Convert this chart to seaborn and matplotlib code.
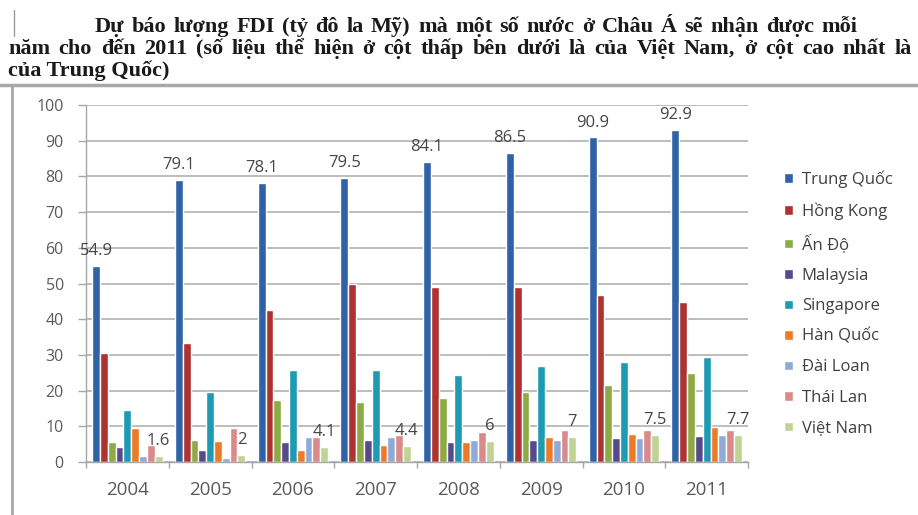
import pandas as pd
import matplotlib
matplotlib.use("Agg")
import matplotlib.pyplot as plt
from matplotlib.lines import Line2D
from matplotlib.ticker import FixedLocator, MultipleLocator
import seaborn as sns

# FDI forecast (billion USD) by year and economy
years = ["2004", "2005", "2006", "2007", "2008", "2009", "2010", "2011"]
countries = ["Trung Quốc", "Hồng Kong", "Ấn Độ", "Malaysia", "Singapore",
             "Hàn Quốc", "Đài Loan", "Thái Lan", "Việt Nam"]

trung_quoc = [54.9, 79.1, 78.1, 79.5, 84.1, 86.5, 90.9, 92.9]
hong_kong = [30.4, 33.4, 42.6, 49.9, 48.9, 48.9, 46.8, 44.9]
an_do = [5.7, 6.3, 17.4, 16.9, 17.8, 19.7, 21.6, 24.8]
malaysia = [4.3, 3.5, 5.7, 6.2, 5.7, 6.2, 6.6, 7.3]
singapore = [14.6, 19.7, 25.8, 25.8, 24.4, 26.9, 28.1, 29.5]
han_quoc = [9.4, 6.0, 3.5, 4.8, 5.7, 7.1, 7.8, 9.7]
dai_loan = [1.7, 1.0, 7.1, 7.1, 6.3, 6.2, 6.6, 7.6]
thai_lan = [4.8, 9.5, 7.0, 7.6, 8.5, 9.0, 9.0, 9.0]
viet_nam = [1.6, 2, 4.1, 4.4, 6, 7, 7.5, 7.7]

series = [trung_quoc, hong_kong, an_do, malaysia, singapore,
          han_quoc, dai_loan, thai_lan, viet_nam]

colors = ["#2F62A6", "#AE3330", "#8CAB45", "#574A8C", "#1E9BB3",
          "#EC7A26", "#8FAAD8", "#D98B8B", "#BFD494"]

title_lines = [
    "Dự báo lượng FDI (tỷ đô la Mỹ) mà một số nước ở Châu Á sẽ nhận được mỗi",
    "năm cho đến 2011 (số liệu thể hiện ở cột thấp bên dưới là của Việt Nam, ở cột cao nhất là",
    "của Trung Quốc)",
]

rows = []
for name, vals in zip(countries, series):
    for yr, v in zip(years, vals):
        rows.append({"Năm": yr, "FDI": v, "Nước": name})
df = pd.DataFrame(rows)

sns.set_style("white")
plt.rcParams["font.family"] = ["Open Sans", "DejaVu Sans"]

W, H = 918, 515
fig = plt.figure(figsize=(W / 100, H / 100), dpi=100)
ax = fig.add_axes([86 / W, 1 - 462 / H, (748 - 86) / W, (462 - 105) / H])

sns.barplot(data=df, x="Năm", y="FDI", hue="Nước", order=years,
            hue_order=countries, palette=colors, width=0.85,
            saturation=1, errorbar=None, ax=ax)

ax.set_ylim(0, 100)
ax.set_xlim(-0.5, len(years) - 0.5)
ax.yaxis.set_major_locator(MultipleLocator(10))
ax.set_xlabel("")
ax.set_ylabel("")
ax.grid(axis="y", color="#BDBDBD", linewidth=1.4)
ax.set_axisbelow(True)

for side in ("top", "right"):
    ax.spines[side].set_visible(False)
for side in ("left", "bottom"):
    ax.spines[side].set_color("#A6A6A6")
    ax.spines[side].set_linewidth(1.0)

ax.tick_params(axis="y", which="major", length=6, width=1.0, color="#A6A6A6",
               pad=10, labelsize=11.5, labelcolor="#5A5A5A", left=True)
ax.tick_params(axis="x", which="major", length=0, pad=14, labelsize=13.5,
               labelcolor="#5A5A5A")
ax.xaxis.set_minor_locator(FixedLocator([i - 0.5 for i in range(len(years) + 1)]))
ax.tick_params(axis="x", which="minor", length=4, width=1.0, color="#A6A6A6",
               bottom=True)

# value labels on the tallest and lowest series
for idx in (0, len(countries) - 1):
    vals = series[idx]
    ax.bar_label(ax.containers[idx], labels=[f"{v:g}" for v in vals],
                 padding=5, fontsize=12, color="#454545")

handles, labels = ax.get_legend_handles_labels()
ax.legend(handles, labels, loc="upper left",
          bbox_to_anchor=(776 / W, 1 - 162 / H), bbox_transform=fig.transFigure,
          frameon=False, borderpad=0, handlelength=0.5, handleheight=0.5,
          handletextpad=0.55, labelspacing=0.87, fontsize=12,
          labelcolor="#404040")

# title paragraph: first two lines justified, last line left-aligned
title_font = dict(family=["Liberation Serif", "DejaVu Serif"], fontsize=16,
                  fontweight="bold", color="#1A1A1A", va="baseline", ha="left")
renderer = fig.canvas.get_renderer()


def justified_line(text, x0, x1, y):
    words = text.split(" ")
    items = [fig.text(0, 1 - y / H, w, **title_font) for w in words]
    widths = [t.get_window_extent(renderer).width for t in items]
    gap = (x1 - x0 - sum(widths)) / (len(words) - 1)
    x = x0
    for t, w in zip(items, widths):
        t.set_x(x / W)
        x += w + gap


justified_line(title_lines[0], 95, 857, 32)
justified_line(title_lines[1], 8, 912, 54)
fig.text(8 / W, 1 - 76 / H, title_lines[2], **title_font)

# chart frame edges
fig.add_artist(Line2D([0, 1], [1 - 85 / H, 1 - 85 / H], transform=fig.transFigure,
                      color="#A8A8A8", linewidth=2.5))
fig.add_artist(Line2D([12 / W, 12 / W], [0, 1 - 85 / H], transform=fig.transFigure,
                      color="#A8A8A8", linewidth=2.0))
fig.add_artist(Line2D([14 / W, 14 / W], [1 - 36 / H, 1 - 10 / H], transform=fig.transFigure,
                      color="#9A9A9A", linewidth=1.0))

fig.savefig("out.png", dpi=100)
